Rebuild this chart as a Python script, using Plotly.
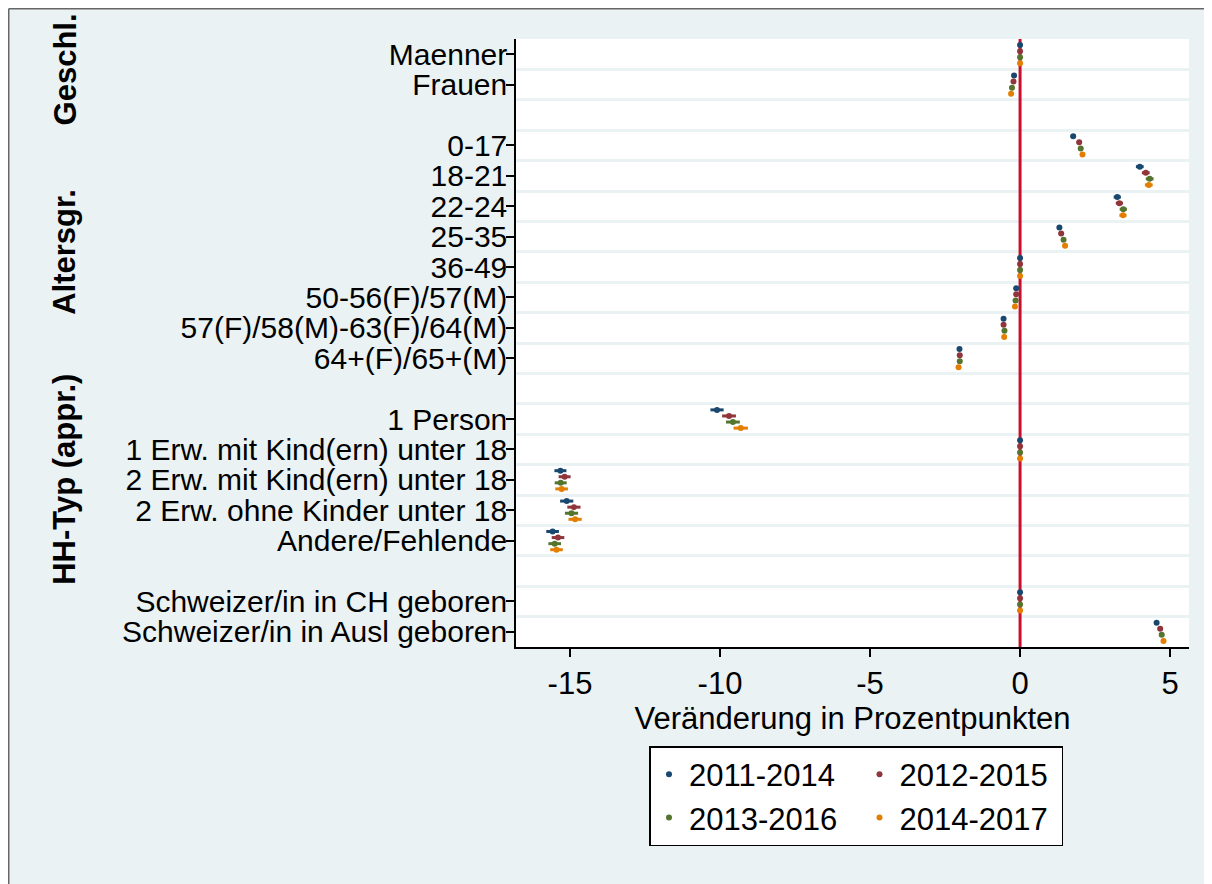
import plotly.graph_objects as go

# figure geometry (px); the page adds an 8px body margin around the figure
W, H = 1204, 876
L, R, T, B = 508, 23, 31, 237
PW, PH = W - L - R, H - T - B

# row labels per group
group_names = ["Geschl.", "Altersgr.", "HH-Typ (appr.)", ""]
rows_geschl = ["Maenner", "Frauen"]
rows_alter = ["0-17", "18-21", "22-24", "25-35", "36-49",
              "50-56(F)/57(M)", "57(F)/58(M)-63(F)/64(M)", "64+(F)/65+(M)"]
rows_hh = ["1 Person", "1 Erw. mit Kind(ern) unter 18", "2 Erw. mit Kind(ern) unter 18",
           "2 Erw. ohne Kinder unter 18", "Andere/Fehlende"]
rows_herkunft = ["Schweizer/in in CH geboren", "Schweizer/in in Ausl geboren"]

series = ["2011-2014", "2012-2015", "2013-2016", "2014-2017"]
colors = ["#1a476f", "#90353b", "#55752f", "#e37e00"]

x_ticks = [-15, -10, -5, 0, 5]

# estimates (percentage points), same row order as above
v_2011_2014 = [0, -0.20, 1.77, 3.99, 3.24, 1.31, 0, -0.13, -0.55, -2.02,
               -10.10, 0, -15.32, -15.11, -15.58, 0, 4.55]
v_2012_2015 = [0, -0.22, 1.97, 4.19, 3.31, 1.37, 0, -0.13, -0.55, -2.01,
               -9.70, 0, -15.18, -14.87, -15.40, 0, 4.67]
v_2013_2016 = [0, -0.27, 2.02, 4.32, 3.44, 1.45, 0, -0.15, -0.52, -2.01,
               -9.57, 0, -15.31, -14.95, -15.51, 0, 4.72]
v_2014_2017 = [0, -0.30, 2.08, 4.29, 3.43, 1.50, 0, -0.17, -0.53, -2.05,
               -9.31, 0, -15.28, -14.83, -15.45, 0, 4.78]

# half widths of the confidence intervals
ci_2011_2014 = [0, 0.05, 0.08, 0.13, 0.12, 0.08, 0, 0.04, 0.05, 0.06,
                0.22, 0, 0.20, 0.22, 0.21, 0, 0.08]
ci_2012_2015 = [0, 0.05, 0.08, 0.13, 0.12, 0.08, 0, 0.04, 0.05, 0.06,
                0.23, 0, 0.20, 0.22, 0.21, 0, 0.08]
ci_2013_2016 = [0, 0.05, 0.08, 0.13, 0.12, 0.08, 0, 0.04, 0.05, 0.06,
                0.23, 0, 0.20, 0.22, 0.21, 0, 0.08]
ci_2014_2017 = [0, 0.05, 0.08, 0.13, 0.12, 0.08, 0, 0.04, 0.05, 0.06,
                0.24, 0, 0.21, 0.22, 0.21, 0, 0.08]

values = [v_2011_2014, v_2012_2015, v_2013_2016, v_2014_2017]
cis = [ci_2011_2014, ci_2012_2015, ci_2013_2016, ci_2014_2017]
offsets = [-0.3, -0.1, 0.1, 0.3]

# slot positions: one empty slot between groups
labels, pos, group_mid = [], [], []
slot = 0
for rows in [rows_geschl, rows_alter, rows_hh, rows_herkunft]:
    start = slot
    for lab in rows:
        labels.append(lab)
        pos.append(slot)
        slot += 1
    group_mid.append((start + slot - 1) / 2)
    slot += 1
y_range = [pos[-1] + 0.5, -0.5]

BG = "#eaf2f3"
FONT = "Liberation Sans, Arial, sans-serif"
FS = 31
NB = "\u00a0"


def px_x(p):
    return (p - L) / PW


def px_y(p):
    return (H - B - p) / PH


fig = go.Figure()

# reference line at zero, drawn first so the markers sit on top
fig.add_trace(go.Scatter(x=[0, 0], y=y_range, mode="lines", showlegend=False,
                         line=dict(color="#c8102e", width=3), hoverinfo="skip"))

for i, name in enumerate(series):
    pad = NB * 2 if i % 2 == 0 else NB
    fig.add_trace(go.Scatter(
        x=values[i], y=[p + offsets[i] for p in pos], mode="markers", name=name + pad,
        legendgroup="a" if i % 2 == 0 else "b",
        marker=dict(color=colors[i], size=6),
        error_x=dict(type="data", array=cis[i], color=colors[i], thickness=3, width=0),
    ))

for name, mid in zip(group_names, group_mid):
    if name:
        fig.add_annotation(text="<b>" + name + "</b>", xref="paper", x=px_x(57), xanchor="center",
                           yref="y", y=mid, yanchor="middle", textangle=-90, showarrow=False,
                           font=dict(size=FS, color="black"))

# grey frame along the left and top figure edge
frame = dict(color="#666666", width=1.5)
fig.add_shape(type="line", xref="paper", yref="paper", x0=px_x(0.75), x1=px_x(0.75),
              y0=px_y(H + 10), y1=px_y(0.75), line=frame, layer="below")
fig.add_shape(type="line", xref="paper", yref="paper", x0=px_x(0.75), x1=px_x(W + 10),
              y0=px_y(0.75), y1=px_y(0.75), line=frame, layer="below")

fig.update_xaxes(
    range=[-16.8, 5.63], tickvals=x_ticks, ticktext=[str(t) for t in x_ticks],
    ticks="outside", ticklen=8, tickwidth=1.5, tickcolor="black",
    showline=True, linecolor="black", linewidth=1.5,
    showgrid=False, zeroline=False, tickfont=dict(size=FS, color="black"),
    title=dict(text="Veränderung in Prozentpunkten", font=dict(size=FS, color="black"), standoff=0),
)
fig.update_yaxes(
    range=y_range, tickvals=pos, ticktext=labels, ticks="outside", ticklen=8,
    tickwidth=1.5, tickcolor="black", showline=True, linecolor="black", linewidth=1.5,
    showgrid=False, zeroline=False, tickfont=dict(size=30, color="black"),
    ticklabelstandoff=-7,
    minor=dict(tickmode="linear", tick0=0.5, dtick=1, showgrid=True, gridcolor=BG,
               gridwidth=3, ticks=""),
)

fig.update_layout(
    width=W, height=H, margin=dict(l=L, r=R, t=T, b=B, autoexpand=False),
    paper_bgcolor=BG, plot_bgcolor="white",
    font=dict(family=FONT, size=FS, color="black"),
    showlegend=True,
    legend=dict(orientation="h", traceorder="grouped", x=px_x(641), xanchor="left",
                y=px_y(738), yanchor="top", bgcolor="white", bordercolor="black",
                borderwidth=1.5, font=dict(size=FS, color="black")),
)

# no scrollbars: the figure plus the page margin fills the window exactly
fig.write_html("out.html", post_script=(
    "document.documentElement.style.overflow = 'hidden';"
    "document.body.style.overflow = 'hidden';"))
